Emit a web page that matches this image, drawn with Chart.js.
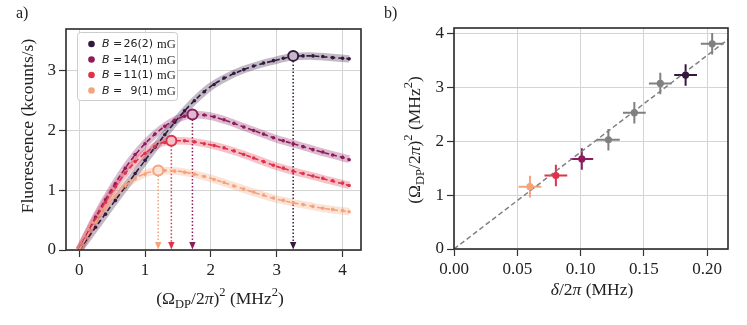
<!DOCTYPE html>
<html>
<head>
<meta charset="utf-8">
<script src="https://cdn.jsdelivr.net/npm/chart.js@4.4.1/dist/chart.umd.min.js"></script>
<style>
  body { margin: 0; background: #fff; }
  #chartA { position: absolute; left: 0; top: 0; }
  #chartB { position: absolute; left: 380px; top: 0; }
</style>
</head>
<body>
<canvas id="chartA" width="380" height="325"></canvas>
<canvas id="chartB" width="367" height="325"></canvas>
<script>
// ---- panel a) data ----
const seriesLabels = ["26(2)", "14(1)", "11(1)", "9(1)"];
const seriesColors = ["#33193f", "#8e1c5c", "#e0324a", "#f5a37b"];

const dataX = [0.25, 0.4, 0.55, 0.7, 0.85, 1.0, 1.15, 1.3, 1.45, 1.6, 1.75, 1.9, 2.05, 2.2,
  2.35, 2.5, 2.65, 2.8, 2.95, 3.1, 3.25, 3.4, 3.55, 3.7, 3.85, 4.0, 4.1];
const dotsDark = [0.38, 0.6, 0.83, 1.06, 1.28, 1.5, 1.72, 1.93, 2.14, 2.33, 2.5, 2.65, 2.77, 2.88,
  2.96, 3.02, 3.08, 3.13, 3.17, 3.21, 3.24, 3.25, 3.25, 3.24, 3.22, 3.21, 3.2];
const dotsPurple = [0.55, 0.84, 1.11, 1.37, 1.6, 1.78, 1.94, 2.07, 2.17, 2.24, 2.27, 2.26, 2.23, 2.18,
  2.12, 2.06, 2.0, 1.94, 1.88, 1.83, 1.78, 1.73, 1.68, 1.64, 1.59, 1.55, 1.51];
const dotsRed = [0.52, 0.8, 1.06, 1.29, 1.48, 1.62, 1.73, 1.8, 1.83, 1.83, 1.81, 1.78, 1.75, 1.71,
  1.66, 1.6, 1.54, 1.48, 1.42, 1.37, 1.32, 1.28, 1.24, 1.2, 1.16, 1.12, 1.08];
const dotsPeach = [0.47, 0.7, 0.9, 1.07, 1.19, 1.27, 1.32, 1.33, 1.32, 1.3, 1.27, 1.23, 1.18, 1.13,
  1.07, 1.02, 0.97, 0.92, 0.87, 0.83, 0.79, 0.76, 0.73, 0.7, 0.68, 0.66, 0.64];

const fitX = [0, 0.25, 0.5, 0.75, 1.0, 1.25, 1.5, 1.75, 2.0, 2.25, 2.5, 2.75, 3.0, 3.25, 3.5, 3.75, 4.1];
const fitDark = [0, 0.38, 0.76, 1.13, 1.5, 1.86, 2.2, 2.5, 2.74, 2.9, 3.02, 3.11, 3.18, 3.24, 3.25, 3.23, 3.2];
const fitPurple = [0, 0.55, 1.03, 1.45, 1.78, 2.03, 2.2, 2.27, 2.24, 2.16, 2.06, 1.96, 1.86, 1.78, 1.7, 1.62, 1.52];
const fitRed = [0, 0.52, 0.98, 1.35, 1.62, 1.79, 1.83, 1.81, 1.76, 1.69, 1.6, 1.5, 1.4, 1.32, 1.25, 1.18, 1.08];
const fitPeach = [0, 0.47, 0.85, 1.12, 1.28, 1.33, 1.32, 1.27, 1.2, 1.11, 1.02, 0.93, 0.85, 0.79, 0.74, 0.69, 0.64];

const maxX = [3.25, 1.72, 1.4, 1.2];
const maxY = [3.25, 2.27, 1.83, 1.33];

const xTicksA = [0, 1, 2, 3, 4];
const yTicksA = [0, 1, 2, 3];

// ---- panel b) data ----
const deltaX = [0.060, 0.0805, 0.101, 0.122, 0.1425, 0.163, 0.183, 0.204];
const omegaY = [1.16, 1.365, 1.675, 2.03, 2.535, 3.08, 3.235, 3.815];
const deltaErr = [0.009, 0.009, 0.009, 0.009, 0.009, 0.009, 0.009, 0.009];
const omegaErr = [0.2, 0.2, 0.2, 0.2, 0.2, 0.2, 0.2, 0.2];
const pointColorsB = ["#f5a37b", "#e0324a", "#8e1c5c", "#808080", "#808080", "#808080", "#33193f", "#808080"];
const lineX = [0, 0.22];
const lineY = [0, 3.96];

const xTicksB = [0, 0.05, 0.1, 0.15, 0.2];
const yTicksB = [0, 1, 2, 3, 4];

const dots = [dotsDark, dotsPurple, dotsRed, dotsPeach];
const fits = [fitDark, fitPurple, fitRed, fitPeach];

const serif = '"Liberation Serif", "DejaVu Serif", serif';
const sans = '"DejaVu Sans", sans-serif';

function toXY(xs, ys) {
  return xs.map((x, i) => ({ x: x, y: ys[i] }));
}

function rgba(hex, a) {
  const n = parseInt(hex.slice(1), 16);
  return `rgba(${(n >> 16) & 255},${(n >> 8) & 255},${n & 255},${a})`;
}

function mixWhite(hex, f) {
  const n = parseInt(hex.slice(1), 16);
  const c = [(n >> 16) & 255, (n >> 8) & 255, n & 255].map(v => Math.round(v * f + 255 * (1 - f)));
  return `rgb(${c[0]},${c[1]},${c[2]})`;
}

// draws text made of pieces (text, font, dy), centred on x
function drawRich(ctx, parts, x, y, angle) {
  ctx.save();
  ctx.translate(x, y);
  ctx.rotate(angle);
  ctx.fillStyle = "#222";
  ctx.textAlign = "left";
  ctx.textBaseline = "alphabetic";
  let w = 0;
  parts.forEach(p => { ctx.font = p[1]; w += ctx.measureText(p[0]).width; });
  let cx = -w / 2;
  parts.forEach(p => {
    ctx.font = p[1];
    ctx.fillText(p[0], cx, p[2]);
    cx += ctx.measureText(p[0]).width;
  });
  ctx.restore();
}

const main = `17.5px ${serif}`;
const small = `12.5px ${serif}`;
const ital = `italic 17.5px ${serif}`;
const omegaTitle = [["(Ω", main, 0], ["DP", small, 4], ["/2", main, 0], ["π", ital, 0], [")", main, 0],
  ["2", small, -8], [" (MHz", main, 0], ["2", small, -8], [")", main, 0]];

function axisCommon(ticks, width, height, fmt) {
  return {
    type: "linear",
    grid: { color: "#d4d4d4", lineWidth: 1, drawTicks: true, tickLength: 7, tickColor: "#333", tickWidth: 1.2 },
    border: { display: false },
    ticks: {
      color: "#222",
      font: { family: serif, size: 17 },
      padding: 3,
      callback: fmt
    },
    afterBuildTicks: (axis) => { axis.ticks = ticks.map(v => ({ value: v })); },
    afterFit: (axis) => {
      if (width !== null) axis.width = width;
      if (height !== null) axis.height = height;
    }
  };
}

const framePlugin = {
  id: "frame",
  afterDraw(chart) {
    const a = chart.chartArea, ctx = chart.ctx;
    ctx.save();
    ctx.strokeStyle = "#2a2a2a";
    ctx.lineWidth = 1.6;
    ctx.strokeRect(a.left, a.top, a.right - a.left, a.bottom - a.top);
    ctx.restore();
  }
};

// ---- panel a) ----
const datasetsA = [];
for (let s = 0; s < 4; s++) {
  const col = seriesColors[s];
  datasetsA.push({
    data: toXY(fitX, fits[s]), showLine: true, borderColor: rgba(col, 0.3), borderWidth: 7.5,
    pointRadius: 0, cubicInterpolationMode: "monotone", order: 40 - s
  });
  datasetsA.push({
    data: toXY(dataX, dots[s]), showLine: false, pointRadius: 1.8, pointBackgroundColor: col,
    pointBorderWidth: 0, order: 30 - s
  });
  datasetsA.push({
    data: toXY(fitX, fits[s]), showLine: true, borderColor: col, borderWidth: 1.6, borderDash: [5, 3],
    pointRadius: 0, cubicInterpolationMode: "monotone", order: 20 - s
  });
  datasetsA.push({
    data: [{ x: maxX[s], y: maxY[s] }], showLine: false, pointRadius: 5, pointBorderWidth: 2,
    pointBorderColor: col, pointBackgroundColor: mixWhite(col, 0.3), order: 10 - s
  });
}

const arrowsPlugin = {
  id: "arrows",
  beforeDatasetsDraw(chart) {
    const ctx = chart.ctx, xs = chart.scales.x, ys = chart.scales.y;
    ctx.save();
    for (let s = 0; s < 4; s++) {
      const px = xs.getPixelForValue(maxX[s]);
      const top = ys.getPixelForValue(maxY[s]) + 5;
      const bot = ys.getPixelForValue(0);
      ctx.strokeStyle = seriesColors[s];
      ctx.fillStyle = seriesColors[s];
      ctx.lineWidth = 1.5;
      ctx.setLineDash([1.5, 2]);
      ctx.beginPath();
      ctx.moveTo(px, top);
      ctx.lineTo(px, bot - 6);
      ctx.stroke();
      ctx.setLineDash([]);
      ctx.beginPath();
      ctx.moveTo(px - 3.2, bot - 8);
      ctx.lineTo(px + 3.2, bot - 8);
      ctx.lineTo(px, bot - 0.5);
      ctx.closePath();
      ctx.fill();
    }
    ctx.restore();
  }
};

const textPluginA = {
  id: "textA",
  afterDraw(chart) {
    const ctx = chart.ctx;
    ctx.save();
    ctx.fillStyle = "#222";
    ctx.font = `16px ${serif}`;
    ctx.fillText("a)", 16, 18);
    drawRich(ctx, [["Fluorescence (kcounts/s)", main, 0]], 33, 126, -Math.PI / 2);
    drawRich(ctx, omegaTitle, 220, 304, 0);

    // legend
    ctx.fillStyle = "rgba(255,255,255,0.85)";
    ctx.strokeStyle = "#cccccc";
    ctx.lineWidth = 1;
    ctx.beginPath();
    ctx.roundRect(77.5, 32.5, 100, 68, 3);
    ctx.fill();
    ctx.stroke();
    const rowY = [44, 59.5, 75, 90.5];
    for (let s = 0; s < 4; s++) {
      ctx.fillStyle = seriesColors[s];
      ctx.beginPath();
      ctx.arc(91.5, rowY[s], 3.3, 0, Math.PI * 2);
      ctx.fill();
      ctx.fillStyle = "#222";
      ctx.textBaseline = "middle";
      ctx.textAlign = "left";
      ctx.font = `italic 11px ${sans}`;
      ctx.fillText("B", 102, rowY[s] + 0.5);
      ctx.font = `11px ${sans}`;
      ctx.fillText("=", 113, rowY[s] + 0.5);
      ctx.textAlign = "right";
      ctx.fillText(seriesLabels[s], 153, rowY[s] + 0.5);
      ctx.textAlign = "left";
      ctx.font = `12.5px ${serif}`;
      ctx.fillText("mG", 157, rowY[s] + 1);
    }
    ctx.restore();
  }
};

new Chart(document.getElementById("chartA"), {
  type: "scatter",
  data: { datasets: datasetsA },
  options: {
    responsive: false,
    animation: false,
    devicePixelRatio: 1,
    layout: { padding: { top: 29, right: 19, left: 0, bottom: 0 } },
    plugins: { legend: { display: false }, tooltip: { enabled: false } },
    scales: {
      x: Object.assign(axisCommon(xTicksA, null, 75, v => String(v)), { min: -0.2, max: 4.28 }),
      y: Object.assign(axisCommon(yTicksA, 66, null, v => String(v)), { min: 0, max: 3.7 })
    }
  },
  plugins: [arrowsPlugin, framePlugin, textPluginA]
});

// ---- panel b) ----
const errorBarsPlugin = {
  id: "errorBars",
  beforeDatasetsDraw(chart) {
    const ctx = chart.ctx, xs = chart.scales.x, ys = chart.scales.y;
    ctx.save();
    ctx.lineWidth = 2;
    deltaX.forEach((x, i) => {
      const px = xs.getPixelForValue(x), py = ys.getPixelForValue(omegaY[i]);
      ctx.strokeStyle = pointColorsB[i];
      ctx.beginPath();
      ctx.moveTo(xs.getPixelForValue(x - deltaErr[i]), py);
      ctx.lineTo(xs.getPixelForValue(x + deltaErr[i]), py);
      ctx.moveTo(px, ys.getPixelForValue(omegaY[i] - omegaErr[i]));
      ctx.lineTo(px, ys.getPixelForValue(omegaY[i] + omegaErr[i]));
      ctx.stroke();
    });
    ctx.restore();
  }
};

const textPluginB = {
  id: "textB",
  afterDraw(chart) {
    const ctx = chart.ctx;
    ctx.save();
    ctx.fillStyle = "#222";
    ctx.font = `16px ${serif}`;
    ctx.fillText("b)", 4, 18);
    drawRich(ctx, omegaTitle, 40, 140, -Math.PI / 2);
    drawRich(ctx, [["δ", ital, 0], ["/2", main, 0], ["π", ital, 0], [" (MHz)", main, 0]], 212, 295, 0);
    ctx.restore();
  }
};

new Chart(document.getElementById("chartB"), {
  type: "scatter",
  data: {
    datasets: [
      {
        data: toXY(deltaX, omegaY), showLine: false, pointRadius: 3.6, pointBorderWidth: 0,
        pointBackgroundColor: pointColorsB, order: 1
      },
      {
        data: toXY(lineX, lineY), showLine: true, borderColor: "#808080", borderWidth: 1.5,
        borderDash: [5, 3], pointRadius: 0, order: 2
      }
    ]
  },
  options: {
    responsive: false,
    animation: false,
    devicePixelRatio: 1,
    layout: { padding: { top: 28, right: 19, left: 0, bottom: 0 } },
    plugins: { legend: { display: false }, tooltip: { enabled: false } },
    scales: {
      x: Object.assign(axisCommon(xTicksB, null, 76, v => v.toFixed(2)), { min: 0, max: 0.2165 }),
      y: Object.assign(axisCommon(yTicksB, 74, null, v => String(v)), { min: 0, max: 4.11 })
    }
  },
  plugins: [errorBarsPlugin, framePlugin, textPluginB]
});
</script>
</body>
</html>
